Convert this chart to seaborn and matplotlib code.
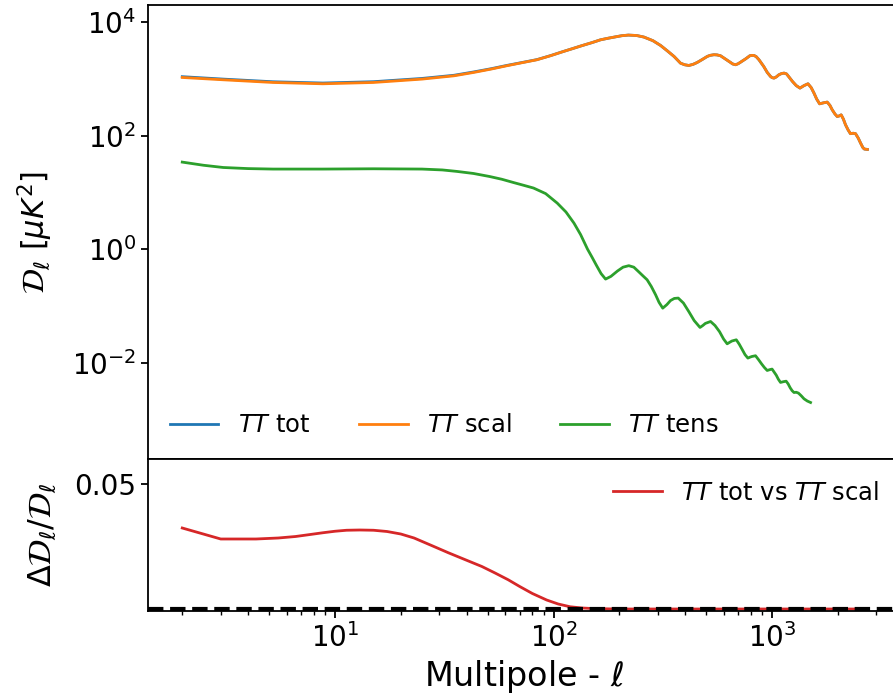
import matplotlib
matplotlib.use("Agg")
import matplotlib.pyplot as plt
import matplotlib.ticker as mticker
import seaborn as sns
import pandas as pd

# ---------------- data ----------------
ell_cl = [2, 3.08, 5.2, 8.8, 15, 25, 35, 43, 52, 61, 72, 84, 97, 110, 122, 135, 150, 164,
          178, 190, 205, 220, 240, 259, 285, 309, 332, 356, 381, 398, 416, 435, 454, 480,
          505, 520, 542, 560, 581, 612, 646, 660, 681, 700, 718, 757, 791, 808, 826, 845,
          871, 916, 950, 984, 1000, 1021, 1045, 1074, 1105, 1135, 1165, 1190, 1240, 1290,
          1342, 1400, 1460, 1510, 1555, 1600, 1650, 1720, 1788, 1840, 1884, 1940, 1986,
          2030, 2071, 2120, 2168, 2230, 2284, 2350, 2410, 2480, 2540, 2600, 2640, 2730]
tt_scal = [1057, 962, 863, 818, 863, 989, 1130, 1294, 1490, 1698, 1930, 2170, 2560, 3000,
           3400, 3850, 4350, 4870, 5200, 5450, 5750, 5900, 5800, 5450, 4700, 3870, 3100,
           2480, 1890, 1770, 1720, 1800, 1940, 2200, 2480, 2590, 2660, 2640, 2550, 2230,
           1940, 1830, 1770, 1850, 1970, 2250, 2550, 2590, 2580, 2470, 2170, 1650, 1300,
           1100, 1050, 1030, 1080, 1178, 1240, 1262, 1220, 1100, 898, 760, 687, 760, 818,
           700, 561, 440, 363, 378, 389, 340, 285, 240, 217, 222, 232, 195, 155, 125, 108,
           110, 108, 90, 74, 62, 58, 57]
tt_tot = [1091, 989, 888, 843, 890, 1016, 1155, 1320, 1512, 1720, 1945, 2183, 2568, 3006,
          3403, 3851, 4350, 4870, 5200, 5450, 5750, 5900, 5800, 5450, 4700, 3870, 3100,
          2480, 1890, 1770, 1720, 1800, 1940, 2200, 2480, 2590, 2660, 2640, 2550, 2230,
          1940, 1830, 1770, 1850, 1970, 2250, 2550, 2590, 2580, 2470, 2170, 1650, 1300,
          1100, 1050, 1030, 1080, 1178, 1240, 1262, 1220, 1100, 898, 760, 687, 760, 818,
          700, 561, 440, 363, 378, 389, 340, 285, 240, 217, 222, 232, 195, 155, 125, 108,
          110, 108, 90, 74, 62, 58, 57]

ell_tens = [2, 2.5, 3.08, 4, 5.2, 8.8, 15, 25, 31, 36, 43, 51, 58, 65.5, 73, 81, 92, 104,
            114, 124, 133, 143, 150, 157, 165, 173, 183, 196, 208, 221, 233, 245, 256, 268,
            280, 293, 304, 316, 330, 343, 357, 372, 393, 416, 440, 468, 482, 495, 523, 548,
            575, 600, 623, 640, 655, 686, 708, 730, 752, 775, 790, 808, 840, 868, 895, 922,
            950, 975, 1000, 1022, 1045, 1068, 1093, 1125, 1160, 1185, 1210, 1235, 1260,
            1290, 1320, 1360, 1400, 1450, 1500]
tt_tens = [34.1, 30.0, 27.4, 26.2, 25.7, 25.7, 26.0, 25.7, 24.8, 23.4, 21.5, 19.0, 17.0,
           14.9, 13.3, 11.9, 9.5, 6.45, 4.5, 2.87, 1.8, 1.0, 0.72, 0.52, 0.37, 0.296, 0.33,
           0.41, 0.48, 0.51, 0.48, 0.40, 0.34, 0.288, 0.22, 0.157, 0.115, 0.091, 0.105,
           0.124, 0.135, 0.137, 0.112, 0.079, 0.055, 0.0416, 0.045, 0.049, 0.053, 0.045,
           0.035, 0.026, 0.0214, 0.0228, 0.024, 0.0252, 0.021, 0.017, 0.0138, 0.012,
           0.0124, 0.0128, 0.0132, 0.0112, 0.0095, 0.0082, 0.00726, 0.0075, 0.00768,
           0.0068, 0.0060, 0.0051, 0.00447, 0.0046, 0.0047, 0.0042, 0.0036, 0.0032,
           0.00297, 0.0030, 0.0029, 0.0026, 0.0023, 0.0021, 0.00198]

ell_ratio = [2, 3, 4.35, 5.5, 6.6, 7.7, 8.8, 10, 11.3, 13, 15, 17.3, 20, 23, 28, 33, 40, 47,
             54, 62, 70, 80, 93, 105, 119, 135, 150, 180, 200, 300, 1000, 2730]
ratio = [0.0324, 0.0280, 0.0280, 0.0284, 0.0290, 0.0298, 0.0305, 0.0311, 0.0315, 0.0316,
         0.0315, 0.0310, 0.0300, 0.0284, 0.0252, 0.0225, 0.0195, 0.0170, 0.0144, 0.0117,
         0.0090, 0.0062, 0.0036, 0.0020, 0.0009, 0.0004, 0.0002, 0.00005, 0.0, 0.0, 0.0,
         0.0]

labels = [r"$TT$ tot", r"$TT$ scal", r"$TT$ tens"]
ratio_label = r"$TT$ tot vs $TT$ scal"
ylabel_top = r"$\mathcal{D}_\ell$ [$\mu K^2$]"
ylabel_bot = r"$\Delta \mathcal{D}_\ell / \mathcal{D}_\ell$"
xlabel = r"Multipole - $\ell$"

# ---------------- plot ----------------
plt.rcParams.update({
    "axes.linewidth": 1.3,
    "xtick.major.size": 5, "ytick.major.size": 5,
    "xtick.major.width": 1.3, "ytick.major.width": 1.3,
    "xtick.minor.size": 2.8, "xtick.minor.width": 1.0,
    "xtick.labelsize": 20, "ytick.labelsize": 20,
})

fig = plt.figure(figsize=(8.93, 6.97), dpi=100)
W, H = 893.0, 697.0
left, right = 148 / W, 901 / W
ax1 = fig.add_axes([left, 1 - 459 / H, right - left, (459 - 5) / H])
ax2 = fig.add_axes([left, 1 - 611 / H, right - left, (611 - 459) / H], sharex=ax1)

df_cl = pd.DataFrame({"ell": ell_cl, "tot": tt_tot, "scal": tt_scal})
df_t = pd.DataFrame({"ell": ell_tens, "tens": tt_tens})
df_r = pd.DataFrame({"ell": ell_ratio, "ratio": ratio})

lw = 2.0
sns.lineplot(data=df_cl, x="ell", y="tot", ax=ax1, color="#1f77b4", lw=lw, label=labels[0])
sns.lineplot(data=df_cl, x="ell", y="scal", ax=ax1, color="#ff7f0e", lw=lw, label=labels[1])
sns.lineplot(data=df_t, x="ell", y="tens", ax=ax1, color="#2ca02c", lw=lw, label=labels[2])

ax1.set_xscale("log")
ax1.set_yscale("log")
ax1.set_ylim(2e-4, 2e4)
ax1.set_yticks([1e-2, 1, 1e2, 1e4])
ax1.yaxis.set_minor_locator(mticker.NullLocator())
ax1.set_xlim(1.394, 3890)
ax1.tick_params(axis="x", which="both", bottom=False, labelbottom=False)
ax1.set_xlabel("")
ax1.set_ylabel(ylabel_top, fontsize=22, labelpad=12)
ax1.legend(loc="lower left", ncol=3, frameon=False, fontsize=17.5)

sns.lineplot(data=df_r, x="ell", y="ratio", ax=ax2, color="#d62728", lw=lw, label=ratio_label)
ax2.axhline(0, color="k", ls="--", lw=3.0)
ax2.set_ylim(-0.0008, 0.06)
ax2.set_yticks([0.05])
ax2.set_yticklabels(["0.05"])
ax2.set_xscale("log")
ax2.set_xlim(1.394, 3890)
ax2.set_xlabel(xlabel, fontsize=24)
ax2.set_ylabel(ylabel_bot, fontsize=23, labelpad=12)
ax2.legend(loc="upper right", frameon=False, fontsize=17.5)

fig.savefig("out.png", dpi=100)
